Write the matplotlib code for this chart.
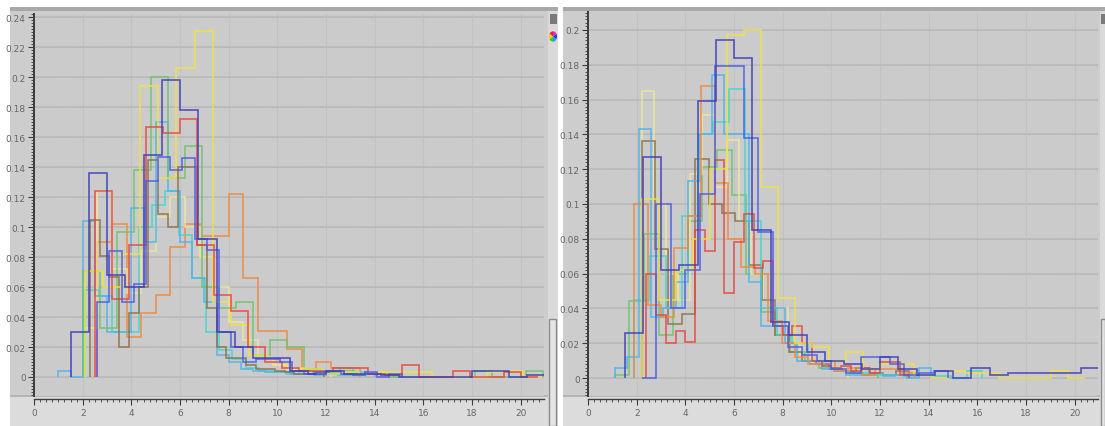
import matplotlib
matplotlib.use('Agg')
import matplotlib.pyplot as plt
from matplotlib.patches import Rectangle
from matplotlib.ticker import MultipleLocator, FormatStrFormatter
import numpy as np

# bin spec (start, width) and bin heights for every series
L_NAVY_BINS = (1.5, 0.75)
L_NAVY = [0.030, 0.136, 0.068, 0.060, 0.148, 0.198, 0.178, 0.092, 0.030, 0.020, 0.013, 0.013, 0.004,
          0.002, 0.004, 0.002, 0.002, 0.001, 0.000, 0.000, 0.000, 0.000, 0.004, 0.004, 0.000, 0.001]
L_BLUE_BINS = (2.6, 0.5)
L_BLUE = [0.050, 0.084, 0.050, 0.062, 0.131, 0.147, 0.138, 0.146, 0.092, 0.085, 0.030, 0.020, 0.010,
          0.012, 0.012, 0.010, 0.004, 0.002, 0.003, 0.004, 0.002, 0.001, 0.003, 0.000, 0.002]
L_RED_BINS = (2.5, 0.7)
L_RED = [0.124, 0.052, 0.088, 0.167, 0.163, 0.172, 0.088, 0.055, 0.044, 0.020, 0.010, 0.006, 0.004,
         0.004, 0.006, 0.006, 0.002, 0.001, 0.008, 0.000, 0.000, 0.004, 0.000, 0.000, 0.003, 0.000]
L_YELLOW_BINS = (2.1, 0.75)
L_YELLOW = [0.071, 0.060, 0.082, 0.194, 0.133, 0.206, 0.231, 0.050, 0.035, 0.015, 0.010, 0.006, 0.005,
            0.002, 0.003, 0.002, 0.003, 0.003, 0.003, 0.000, 0.000, 0.000, 0.003, 0.004, 0.000]
L_PALE_BINS = (2.0, 0.6)
L_PALE = [0.033, 0.124, 0.072, 0.056, 0.084, 0.107, 0.120, 0.100, 0.080, 0.060, 0.037, 0.025, 0.013,
          0.008, 0.005, 0.004, 0.002]
L_GREEN_BINS = (2.0, 0.7)
L_GREEN = [0.071, 0.033, 0.097, 0.138, 0.200, 0.133, 0.154, 0.060, 0.046, 0.050, 0.015, 0.025, 0.020,
           0.005, 0.003, 0.004, 0.002, 0.002, 0.000, 0.000, 0.000, 0.000, 0.000, 0.004, 0.000, 0.000, 0.004]
L_CYAN_BINS = (2.1, 0.55)
L_CYAN = [0.058, 0.054, 0.030, 0.030, 0.100, 0.115, 0.124, 0.095, 0.066, 0.030, 0.018, 0.012, 0.006,
          0.004, 0.003, 0.002, 0.004, 0.003, 0.002, 0.006, 0.003]
L_SKY_BINS = (1.0, 0.5)
L_SKY = [0.004, 0.000, 0.104, 0.054, 0.030, 0.030, 0.113, 0.090, 0.170, 0.124, 0.090, 0.066, 0.050,
         0.015, 0.010, 0.005, 0.004, 0.003, 0.003, 0.002, 0.002, 0.001, 0.002, 0.001, 0.001, 0.002]
L_BROWN_BINS = (2.3, 0.4)
L_BROWN = [0.105, 0.081, 0.067, 0.020, 0.043, 0.060, 0.145, 0.109, 0.100, 0.140, 0.140, 0.088, 0.046,
           0.020, 0.013, 0.013, 0.008, 0.005, 0.005, 0.004, 0.003, 0.002, 0.002, 0.003]
L_ORANGE_BINS = (2.6, 0.6)
L_ORANGE = [0.090, 0.102, 0.027, 0.043, 0.055, 0.087, 0.102, 0.094, 0.094, 0.122, 0.066, 0.031, 0.031,
            0.019, 0.004, 0.010, 0.006, 0.006]

R_NAVY_BINS = (1.5, 0.75)
R_NAVY = [0.026, 0.127, 0.062, 0.065, 0.159, 0.194, 0.184, 0.085, 0.032, 0.025, 0.015, 0.010, 0.008,
          0.005, 0.012, 0.005, 0.002, 0.004, 0.000, 0.006, 0.002, 0.003, 0.003, 0.003, 0.003, 0.006]
R_BLUE_BINS = (2.2, 0.6)
R_BLUE = [0.000, 0.100, 0.040, 0.062, 0.106, 0.179, 0.179, 0.138, 0.084, 0.030, 0.018, 0.013, 0.010,
          0.005, 0.003, 0.012, 0.012, 0.008, 0.002, 0.003, 0.004]
R_YELLOW_BINS = (2.2, 0.7)
R_YELLOW = [0.103, 0.045, 0.062, 0.080, 0.120, 0.197, 0.200, 0.110, 0.046, 0.020, 0.018, 0.010, 0.015,
            0.005, 0.008, 0.008, 0.002, 0.000, 0.004, 0.003, 0.003, 0.000, 0.000, 0.000, 0.004, 0.000]
R_PALE_BINS = (2.2, 0.5)
R_PALE = [0.165, 0.100, 0.060, 0.045, 0.117, 0.151, 0.110, 0.137, 0.090, 0.060, 0.045, 0.040, 0.020,
          0.012, 0.008, 0.005, 0.004]
R_SKY_BINS = (1.1, 0.5)
R_SKY = [0.006, 0.012, 0.143, 0.035, 0.040, 0.055, 0.113, 0.140, 0.174, 0.140, 0.140, 0.055, 0.030,
         0.040, 0.020, 0.010, 0.008, 0.005, 0.004, 0.002, 0.002, 0.003, 0.001, 0.002, 0.000, 0.006]
R_BROWN_BINS = (2.2, 0.55)
R_BROWN = [0.136, 0.074, 0.031, 0.037, 0.126, 0.100, 0.095, 0.090, 0.065, 0.045, 0.025, 0.015, 0.010,
           0.008, 0.005, 0.004, 0.006, 0.003, 0.002, 0.004]
R_ORANGE_BINS = (1.9, 0.55)
R_ORANGE = [0.100, 0.042, 0.035, 0.075, 0.093, 0.168, 0.112, 0.080, 0.064, 0.060, 0.033, 0.020, 0.012,
            0.008, 0.010, 0.004, 0.006, 0.002, 0.005, 0.005, 0.003]
R_RED_BINS = (2.4, 0.4)
R_RED = [0.060, 0.036, 0.020, 0.027, 0.021, 0.085, 0.073, 0.125, 0.049, 0.078, 0.094, 0.063, 0.067,
         0.030, 0.025, 0.030, 0.020, 0.010, 0.007, 0.006, 0.007, 0.004, 0.006, 0.003, 0.009, 0.009, 0.002]
R_GREEN_BINS = (1.1, 0.6)
R_GREEN = [0.002, 0.044, 0.083, 0.025, 0.060, 0.090, 0.121, 0.131, 0.105, 0.060, 0.038, 0.025, 0.015,
           0.010, 0.006, 0.004, 0.003, 0.002]
R_CYAN_BINS = (1.9, 0.65)
R_CYAN = [0.045, 0.070, 0.040, 0.093, 0.140, 0.147, 0.166, 0.090, 0.040, 0.025, 0.020, 0.010, 0.006,
          0.004, 0.003, 0.002, 0.002, 0.001, 0.002, 0.001, 0.000, 0.004]

COLORS = {'navy': '#3c3cb8', 'blue': '#4a5ae8', 'red': '#e8453c', 'yellow': '#f2e340',
          'pale': '#efe79a', 'green': '#6cc46c', 'cyan': '#3fd6d0', 'sky': '#4cb4ee',
          'brown': '#8f7046', 'orange': '#f0883a'}

left_series = [('orange', L_ORANGE_BINS, L_ORANGE), ('pale', L_PALE_BINS, L_PALE),
               ('cyan', L_CYAN_BINS, L_CYAN), ('sky', L_SKY_BINS, L_SKY),
               ('green', L_GREEN_BINS, L_GREEN), ('brown', L_BROWN_BINS, L_BROWN),
               ('yellow', L_YELLOW_BINS, L_YELLOW), ('red', L_RED_BINS, L_RED),
               ('blue', L_BLUE_BINS, L_BLUE), ('navy', L_NAVY_BINS, L_NAVY)]
right_series = [('green', R_GREEN_BINS, R_GREEN), ('pale', R_PALE_BINS, R_PALE),
                ('brown', R_BROWN_BINS, R_BROWN), ('cyan', R_CYAN_BINS, R_CYAN),
                ('sky', R_SKY_BINS, R_SKY), ('orange', R_ORANGE_BINS, R_ORANGE),
                ('red', R_RED_BINS, R_RED), ('yellow', R_YELLOW_BINS, R_YELLOW),
                ('blue', R_BLUE_BINS, R_BLUE), ('navy', R_NAVY_BINS, R_NAVY)]

W, H = 1105, 427
fig = plt.figure(figsize=(W / 100, H / 100), dpi=100)
fig.patch.set_facecolor('white')


def px_rect(x0, y0, x1, y1, **kw):
    # rectangle in screen pixels (origin top-left)
    fig.add_artist(Rectangle((x0 / W, 1 - y1 / H), (x1 - x0) / W, (y1 - y0) / H,
                             transform=fig.transFigure, **kw))


def px_axes(x0, y0, x1, y1):
    return fig.add_axes([x0 / W, 1 - y1 / H, (x1 - x0) / W, (y1 - y0) / H])


def draw_frame(x0, x1, side0, side1):
    px_rect(x0, 8, x1, H, facecolor='#cdcdcd', edgecolor='none', zorder=0)
    px_rect(x0, 8, x1, 12, facecolor='#a8a8a8', edgecolor='none', zorder=0)
    px_rect(x0, 397, side0, H, facecolor='#dcdcdc', edgecolor='none', zorder=0)
    px_rect(x0, 396, side0, 397.5, facecolor='#b4b4b4', edgecolor='none', zorder=0)
    px_rect(side0, 12, side1, H, facecolor='#dadada', edgecolor='none', zorder=0)


draw_frame(10, 558, 548, 558)
draw_frame(563, 1105, 1100, 1105)
# scrollbar + icons of the sidebars
px_rect(549, 320, 556, H, facecolor='#e4e4e4', edgecolor='#8a8a8a', lw=1, zorder=1)
px_rect(549.5, 15, 556.5, 25, facecolor='#7a7a7a', edgecolor='none', zorder=1)
px_rect(1100.5, 15, 1105, 25, facecolor='#7a7a7a', edgecolor='none', zorder=1)
px_rect(1100.5, 320, 1105, H, facecolor='#e4e4e4', edgecolor='#8a8a8a', lw=1, zorder=1)
wheel = px_axes(548, 31, 558, 44)
wheel.pie([1] * 6, colors=['#ff2020', '#ffd000', '#30d030', '#20a0ff', '#3030e0', '#e020e0'],
          startangle=90)
wheel.set_aspect('auto')
wheel.axis('off')


def draw_panel(ax, series, ymin, ymax, ytop_tick):
    ax.set_facecolor('#cbcbcb')
    for name, (start, width), heights in series:
        edges = start + width * np.arange(len(heights) + 1)
        ax.stairs(heights, edges, color=COLORS[name], lw=1.2, alpha=0.85, baseline=0)
    ax.set_xlim(0, 20.95)
    ax.set_ylim(ymin, ymax)
    ax.xaxis.set_major_locator(MultipleLocator(2))
    ax.xaxis.set_minor_locator(MultipleLocator(0.25))
    ax.yaxis.set_minor_locator(MultipleLocator(0.002))
    ax.xaxis.set_major_formatter(FormatStrFormatter('%g'))
    ax.set_yticks(np.arange(0, ytop_tick + 0.001, 0.02))
    ax.set_yticklabels(['%g' % round(v, 2) for v in ax.get_yticks()])
    ax.grid(True, which='major', axis='y', color='#bababa', lw=1.1, zorder=0)
    ax.grid(True, which='major', axis='x', color='#c2c2c2', lw=0.8, zorder=0)
    for v in ax.get_yticks():
        ax.axhline(v, color='#999999', ls=(0, (1, 1.5)), lw=0.6, zorder=0.5)
    for v in ax.get_xticks():
        ax.axvline(v, color='#a2a2a2', ls=(0, (1, 1.5)), lw=0.6, zorder=0.5)
    ax.set_axisbelow(True)
    for s in ['top', 'right']:
        ax.spines[s].set_visible(False)
    ax.spines['left'].set_color('#3c3c3c')
    ax.spines['left'].set_linewidth(1.4)
    ax.spines['bottom'].set_color('#3c3c3c')
    ax.spines['bottom'].set_linewidth(1.0)
    ax.spines['bottom'].set_position(('outward', 2.5))
    ax.tick_params(axis='both', which='major', labelsize=6.5, labelcolor='#666666',
                   color='#3c3c3c', length=4, width=0.8, pad=2)
    ax.tick_params(axis='both', which='minor', color='#3c3c3c', length=2.5, width=0.6)


axL = px_axes(34, 15, 544, 397)
draw_panel(axL, left_series, -0.0127, 0.2423, 0.24)
axR = px_axes(588, 13, 1098, 397)
draw_panel(axR, right_series, -0.0103, 0.2103, 0.2)

plt.savefig('out.png', dpi=100)
